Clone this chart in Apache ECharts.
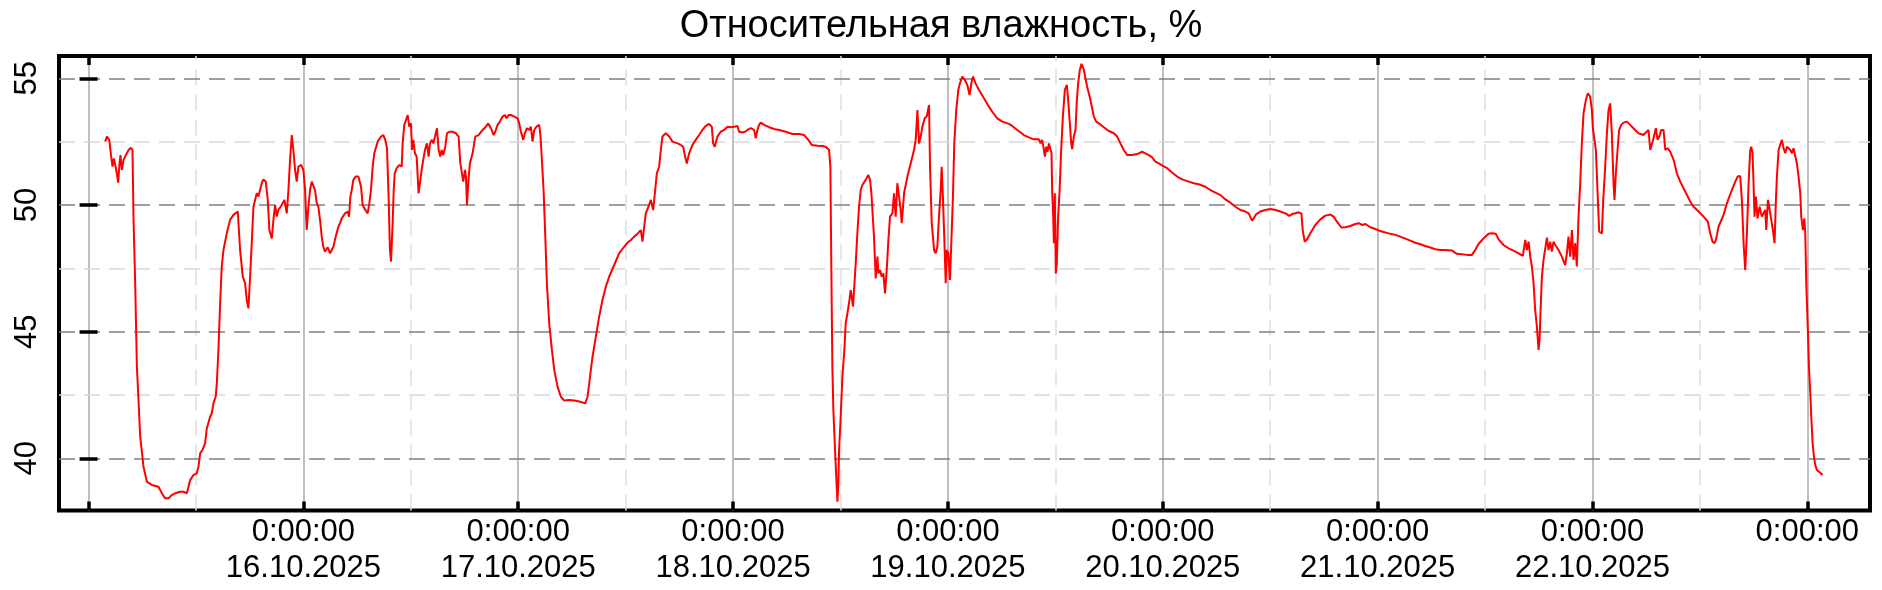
<!DOCTYPE html>
<html>
<head>
<meta charset="utf-8">
<script src="https://cdn.jsdelivr.net/npm/echarts@6/dist/echarts.min.js"></script>
<style>
  html, body { margin: 0; padding: 0; background: #fff; }
  #chart { width: 1882px; height: 590px; }
</style>
</head>
<body>
<div id="chart"></div>
<script>
// [часы от 15.10.2025 0:00, влажность %]
const readings = [
  [1.86,52.50],[2.05,52.70],[2.31,52.57],[2.53,51.91],[2.68,51.51],[2.83,51.84],[2.98,51.58],[3.16,51.25],
  [3.31,50.88],[3.46,51.64],[3.57,51.97],[3.72,51.38],[3.91,51.78],[4.09,51.91],[4.28,52.04],[4.47,52.17],
  [4.73,52.26],[4.91,52.17],[5.02,49.54],[5.21,46.91],[5.40,43.62],[5.58,42.30],[5.77,40.86],[6.14,39.67],
  [6.51,39.08],[7.07,38.95],[7.81,38.88],[8.19,38.62],[8.56,38.42],[8.93,38.42],[9.30,38.55],[9.67,38.62],
  [10.23,38.68],[10.60,38.68],[10.98,38.62],[11.35,39.14],[11.72,39.34],[12.09,39.41],[12.28,39.67],[12.47,40.20],
  [12.73,40.33],[13.02,40.59],[13.21,41.18],[13.40,41.12],[13.58,41.64],[13.77,41.78],[13.95,42.17],[14.21,42.44],
  [14.33,42.96],[14.51,44.28],[14.70,46.12],[14.88,47.57],[15.07,48.22],[15.44,48.88],[15.81,49.41],[16.19,49.61],
  [16.67,49.74],[16.93,48.22],[17.23,47.17],[17.49,46.91],[17.67,46.25],[17.86,45.92],[18.05,47.17],[18.23,48.49],
  [18.42,49.93],[18.79,50.46],[18.98,50.33],[19.16,50.59],[19.35,50.86],[19.53,51.01],[19.80,50.92],[20.02,50.20],
  [20.20,49.01],[20.47,48.68],[20.65,49.41],[20.84,50.00],[21.02,49.54],[21.21,49.80],[21.58,50.00],[21.88,50.20],
  [22.14,49.67],[22.33,50.59],[22.51,51.78],[22.70,52.76],[22.88,52.17],[23.07,51.38],[23.26,50.92],[23.44,51.51],
  [23.74,51.58],[24.00,51.38],[24.19,50.59],[24.37,49.01],[24.56,49.93],[24.74,50.59],[24.93,50.92],[25.15,50.99],
  [25.30,50.59],[25.49,50.07],[25.67,49.93],[25.86,49.41],[26.05,48.75],[26.23,48.35],[26.42,48.16],[26.72,48.33],
  [26.98,48.09],[27.16,48.16],[27.35,48.35],[27.61,48.75],[27.91,49.14],[28.09,49.28],[28.28,49.47],[28.65,49.67],
  [28.95,49.74],[29.10,49.54],[29.25,50.33],[29.40,50.59],[29.58,50.99],[29.84,51.12],[30.14,51.12],
  [30.44,50.72],[30.62,50.00],[30.92,49.80],[31.18,49.67],[31.37,50.07],[31.55,50.59],[31.74,51.51],[31.92,52.04],
  [32.30,52.50],[32.67,52.70],[32.93,52.76],[33.15,52.57],[33.34,52.24],[33.53,50.20],[33.67,48.22],[33.79,47.76],
  [33.97,49.28],[34.09,50.59],[34.20,51.25],[34.42,51.45],[34.72,51.58],[34.98,51.51],[35.09,52.43],[35.27,53.16],
  [35.46,53.35],[35.65,53.55],[35.83,53.09],[36.02,53.22],[36.13,52.17],[36.28,52.57],[36.46,52.04],[36.65,51.91],
  [36.87,50.46],[37.02,50.86],[37.21,51.38],[37.39,51.78],[37.58,52.17],[37.80,52.43],[37.99,51.91],[38.14,52.43],
  [38.36,52.57],[38.51,52.43],[38.70,52.70],[38.92,53.03],[39.11,52.17],[39.29,51.91],[39.44,52.17],[39.63,51.97],
  [39.85,52.30],[40.04,52.83],[40.30,52.89],[40.67,52.89],[41.04,52.83],[41.34,52.70],[41.53,51.64],[41.71,51.25],
  [41.86,50.92],[42.05,51.38],[42.16,51.12],[42.27,50.00],[42.42,50.86],[42.60,51.64],[42.90,52.04],[43.20,52.70],
  [43.57,52.76],[44.02,52.96],[44.39,53.09],[44.65,53.22],[44.95,53.03],[45.25,52.76],[45.43,52.89],[45.69,53.16],
  [45.95,53.29],[46.25,53.49],[46.51,53.55],[46.70,53.42],[46.92,53.55],[47.18,53.55],[47.55,53.49],[47.93,53.42],
  [48.11,53.22],[48.30,52.89],[48.56,52.57],[48.74,52.83],[48.97,53.03],[49.23,52.96],[49.41,53.09],[49.60,52.50],
  [49.79,52.96],[50.05,53.09],[50.34,53.16],[50.49,52.70],[50.64,51.78],[50.83,50.59],[51.01,48.88],[51.20,46.91],
  [51.46,45.33],[51.76,44.28],[52.02,43.49],[52.39,42.83],[52.76,42.43],[53.14,42.28],[53.69,42.30],[54.25,42.28],
  [54.81,42.24],[55.48,42.17],[55.74,42.43],[55.93,42.96],[56.11,43.49],[56.30,44.01],[56.67,44.80],[57.04,45.59],
  [57.41,46.25],[57.79,46.78],[58.16,47.17],[58.72,47.63],[59.27,48.09],[59.83,48.35],[60.20,48.51],[60.58,48.62],
  [60.95,48.75],[61.32,48.86],[61.69,49.01],[61.88,48.55],[62.07,49.14],[62.25,49.67],[62.55,49.93],[62.81,50.20],
  [63.07,49.80],[63.30,50.59],[63.48,51.25],[63.74,51.51],
  [63.93,52.17],[64.11,52.70],[64.48,52.83],[64.86,52.70],[65.23,52.50],[65.79,52.43],[66.16,52.37],[66.42,52.30],
  [66.64,51.91],[66.83,51.64],[67.09,52.04],[67.46,52.37],[67.83,52.57],[68.20,52.76],[68.58,52.96],[68.95,53.12],
  [69.32,53.20],[69.62,53.09],[69.77,52.43],[69.95,52.30],[70.25,52.70],[70.62,52.89],[71.00,52.96],[71.37,53.09],
  [71.74,53.07],[72.11,53.09],[72.49,53.12],[72.67,52.89],[72.86,52.96],[73.04,52.86],[73.34,52.89],[73.60,52.96],
  [73.97,53.03],[74.35,52.96],[74.53,52.63],[74.72,52.96],[74.90,53.16],[75.09,53.25],[75.46,53.16],[76.02,53.07],
  [76.58,53.00],[77.14,52.96],[77.88,52.89],[78.62,52.80],[79.37,52.80],[79.93,52.76],[80.41,52.57],[80.78,52.37],
  [81.42,52.34],[81.98,52.33],[82.34,52.30],[82.72,52.17],[82.87,51.51],[82.94,48.75],[83.02,45.99],[83.09,43.62],
  [83.20,41.91],[83.39,40.33],[83.54,39.14],[83.65,38.29],[83.76,39.01],[83.84,40.33],[84.02,41.64],[84.21,43.22],
  [84.43,44.28],[84.58,45.33],[84.77,45.72],[84.95,46.12],[85.14,46.64],[85.25,46.38],[85.40,45.99],[85.51,46.64],
  [85.70,47.70],[85.88,48.88],[86.07,49.93],[86.26,50.59],[86.44,50.79],[86.81,50.99],[87.11,51.18],[87.30,50.99],
  [87.45,50.46],[87.56,49.80],[87.74,48.75],[87.93,47.10],[88.12,47.96],[88.23,47.30],[88.42,47.43],[88.60,47.17],
  [88.79,47.30],[88.97,46.51],[89.16,47.43],[89.35,48.62],[89.53,49.54],[89.79,49.67],[89.98,50.46],[90.16,49.54],
  [90.35,50.86],[90.54,50.33],[90.72,49.80],[90.84,49.28],[91.10,50.46],[91.47,51.12],[91.84,51.64],[92.21,52.17],
  [92.40,52.57],[92.59,53.75],[92.77,52.43],[92.96,52.70],[93.14,53.09],[93.40,53.42],[93.63,53.49],[93.89,53.95],
  [94.00,51.51],[94.19,49.28],[94.45,48.22],[94.63,48.09],[94.82,48.35],[95.00,49.54],[95.19,50.59],[95.30,51.51],
  [95.45,50.20],[95.60,48.62],[95.75,46.91],[95.86,48.22],[96.04,48.09],[96.23,47.04],[96.41,46.97],[96.56,50.33],
  [96.71,52.43],[96.93,53.75],[97.16,54.54],[97.34,54.80],[97.60,55.07],[97.90,54.93],[98.16,54.74],
  [98.42,54.34],[98.65,54.87],[98.80,55.07],[99.09,54.80],[99.47,54.54],[100.02,54.21],[100.58,53.88],[100.95,53.68],
  [101.51,53.42],[102.07,53.29],[102.81,53.20],[103.18,53.12],[103.74,52.96],[104.49,52.76],[105.04,52.67],[105.60,52.59],
  [106.16,52.59],[106.35,52.43],[106.53,52.57],[106.72,52.17],[106.83,51.91],[106.98,52.30],[107.13,52.10],[107.28,52.43],
  [107.46,52.43],[107.57,52.04],[107.65,50.46],[107.76,49.54],[107.83,48.49],[107.94,50.46],[108.05,47.30],[108.16,47.70],
  [108.31,49.54],[108.46,50.46],[108.65,52.17],[108.84,53.49],[109.06,54.54],[109.28,54.74],[109.43,54.14],[109.62,53.22],
  [109.77,52.43],[109.88,52.20],[110.06,52.70],[110.25,52.96],[110.40,54.14],[110.55,54.80],[110.73,55.33],[110.92,55.57],
  [111.18,55.33],[111.55,54.67],[111.92,54.14],[112.30,53.49],[112.56,53.29],[112.85,53.22],[113.41,53.07],[113.97,52.92],
  [114.53,52.83],[114.90,52.70],[115.27,52.43],[115.64,52.17],[116.02,51.97],[116.57,51.97],[117.13,52.01],[117.69,52.10],
  [118.06,52.04],[118.43,51.97],[118.81,51.88],[119.18,51.71],[119.55,51.64],[120.00,51.54],[120.48,51.45],[121.04,51.28],
  [121.60,51.12],[122.16,51.01],[122.90,50.92],[123.46,50.86],[124.02,50.82],[124.76,50.72],[125.32,50.59],[125.88,50.49],
  [126.44,50.39],[126.99,50.22],[127.55,50.09],[128.11,49.93],[128.67,49.80],[129.22,49.74],[129.60,49.67],[129.78,49.61],
  [129.97,49.38],[130.15,49.47],[130.45,49.64],[130.90,49.74],[131.46,49.80],
  [132.02,49.84],[132.58,49.80],[133.14,49.74],[133.69,49.67],[134.14,49.57],[134.44,49.64],[134.81,49.67],[135.18,49.71],
  [135.48,49.67],[135.63,49.01],[135.85,48.55],[136.11,48.64],[136.48,48.88],[137.04,49.21],[137.60,49.43],[138.16,49.58],
  [138.72,49.62],[139.09,49.54],[139.46,49.34],[139.95,49.11],[140.39,49.12],[140.95,49.17],[141.51,49.25],[141.88,49.28],
  [142.26,49.21],[142.63,49.25],[143.19,49.12],[143.75,49.05],[144.30,48.97],[144.86,48.91],[145.42,48.86],[145.98,48.82],
  [146.53,48.75],[147.09,48.67],[147.65,48.59],[148.21,48.51],[148.77,48.45],[149.32,48.38],[149.88,48.32],[150.44,48.25],
  [151.00,48.22],[151.55,48.22],[152.30,48.20],[152.86,48.07],[153.41,48.05],[153.97,48.03],[154.53,48.03],[154.90,48.22],
  [155.27,48.46],[155.83,48.68],[156.39,48.86],[156.76,48.88],[157.21,48.86],[157.51,48.64],[158.06,48.42],[158.62,48.29],
  [159.18,48.20],[159.74,48.09],[160.22,47.99],[160.49,48.62],[160.67,48.22],[160.86,48.55],[161.05,47.96],[161.23,47.57],
  [161.42,46.91],[161.60,45.85],[161.79,45.20],[161.98,44.28],[162.09,44.67],[162.20,45.85],[162.35,47.17],[162.53,47.83],
  [162.72,47.86],[162.91,48.71],[163.09,48.22],[163.28,48.55],[163.46,48.16],[163.65,48.55],[163.84,48.42],[164.02,48.35],
  [164.21,48.22],
  [164.58,47.96],[164.95,47.63],[165.14,48.09],[165.32,48.75],[165.51,47.96],[165.70,49.01],[165.88,47.83],[166.07,48.49],
  [166.25,47.57],[166.44,49.54],[166.63,50.86],[166.81,52.43],[167.00,53.62],[167.26,54.14],[167.48,54.41],[167.74,54.28],
  [167.93,53.75],[168.04,53.03],[168.23,52.96],[168.38,52.17],[168.60,50.20],[168.75,48.95],[168.90,48.95],[169.05,48.88],
  [169.20,50.20],[169.42,51.51],[169.61,52.83],[169.79,53.75],[169.98,54.01],[170.16,52.83],[170.35,50.86],[170.46,50.20],
  [170.61,51.25],[170.80,52.17],[170.98,52.96],[171.21,53.16],[171.47,53.25],[171.84,53.29],[172.21,53.16],[172.58,53.03],
  [173.14,52.83],[173.70,52.76],[173.96,52.86],[174.26,52.96],[174.45,52.17],[174.56,52.10],[174.82,52.63],[175.08,53.03],
  [175.27,52.57],[175.46,52.70],[175.68,52.96],[175.94,52.96],[176.13,52.17],[176.39,52.24],[176.69,52.10],[177.06,51.78],
  [177.43,51.25],[177.80,50.92],[178.36,50.53],[178.92,50.13],[179.29,49.93],[179.85,49.74],[180.41,49.54],[180.89,49.34],
  [181.15,48.88],[181.41,48.55],[181.64,48.49],[181.79,48.62],[182.08,49.14],[182.27,49.21],[182.64,49.61],[183.02,50.07],
  [183.57,50.59],[183.95,50.92],[184.21,51.12],[184.50,51.14],[184.69,50.20],[184.88,48.49],[185.06,47.43],[185.25,48.88],
  [185.44,50.86],[185.62,52.17],[185.73,52.30],[185.88,52.04],[185.99,50.86],[186.10,49.54],[186.25,50.33],[186.44,49.47],
  [186.66,49.93],[186.92,49.54],[187.11,49.67],[187.30,49.80],[187.41,49.01],[187.60,50.20],[187.74,49.93],[187.97,49.41],
  [188.15,49.01],[188.34,48.49],[188.49,50.20],[188.60,51.12],[188.79,52.17],[188.97,52.37],[189.16,52.57],[189.35,52.24],
  [189.53,52.04],[189.72,52.30],[189.90,52.24],[190.09,52.17],[190.28,52.04],[190.46,52.24],[190.65,52.24],[190.83,51.64],
  [191.02,51.12],[191.21,50.46],[191.32,49.54],[191.51,49.01],[191.66,49.47],[191.77,48.88],[191.88,46.91],[192.07,44.93],
  [192.18,43.62],[192.33,42.57],[192.44,41.64],[192.59,40.59],[192.74,40.07],[192.88,39.74],[193.07,39.54],[193.26,39.51],
  [193.44,39.43],[193.70,39.34]
];

const dayTicks = [0, 24, 48, 72, 96, 120, 144, 168, 192];
const dayLabels = ['', '0:00:00\n16.10.2025', '0:00:00\n17.10.2025', '0:00:00\n18.10.2025',
  '0:00:00\n19.10.2025', '0:00:00\n20.10.2025', '0:00:00\n21.10.2025', '0:00:00\n22.10.2025', '0:00:00'];
const noonLines = [12, 36, 60, 84, 108, 132, 156, 180];
const yMajor = [40, 45, 50, 55];
const yMinor = [42.5, 47.5, 52.5];

const font = "'Liberation Sans', Arial, sans-serif";
const xMin = -3.3, xMax = 199;
const yMin = 37.94, yMax = 55.88;

const tickStyle = { show: true, inside: true, length: 9, lineStyle: { color: '#000', width: 3.5 } };

// сетка рисуется маркерными линиями, т.к. шкалы начинаются не с кратного значения
const gridLines = [].concat(
  dayTicks.map(h => ({ xAxis: h, lineStyle: { color: '#c0c0c0', type: 'solid', width: 2 } })),
  noonLines.map(h => ({ xAxis: h, lineStyle: { color: '#dedede', type: [16, 9], width: 1.5 } })),
  yMinor.map(v => ({ yAxis: v, lineStyle: { color: '#d9d9d9', type: [16, 9], width: 1.5 } })),
  yMajor.map(v => ({ yAxis: v, lineStyle: { color: '#808080', type: [16, 9], width: 1.5 } }))
);

const chart = echarts.init(document.getElementById('chart'), null, { renderer: 'canvas' });
chart.setOption({
  animation: false,
  backgroundColor: '#fff',
  title: {
    text: 'Относительная влажность, %',
    left: 'center',
    top: 3,
    textStyle: { fontFamily: font, fontSize: 38, fontWeight: 'normal', color: '#000' }
  },
  grid: {
    left: 59, right: 12, top: 56, bottom: 79.5,
    show: true, borderColor: '#000', borderWidth: 4
  },
  xAxis: [{
    type: 'value', position: 'bottom', min: xMin, max: xMax, z: 10,
    axisLine: { show: false },
    axisTick: Object.assign({ customValues: dayTicks }, tickStyle),
    splitLine: { show: false },
    axisLabel: {
      customValues: dayTicks,
      formatter: v => dayLabels[dayTicks.indexOf(v)] || '',
      fontFamily: font, fontSize: 31, color: '#000', lineHeight: 36, margin: 4
    }
  }, {
    type: 'value', position: 'top', min: xMin, max: xMax, z: 10,
    axisLine: { show: false },
    axisTick: Object.assign({ customValues: dayTicks }, tickStyle),
    splitLine: { show: false },
    axisLabel: { show: false }
  }],
  yAxis: [{
    type: 'value', position: 'left', min: yMin, max: yMax, z: 10,
    axisLine: { show: false },
    axisTick: Object.assign({ customValues: yMajor }, tickStyle),
    splitLine: { show: false },
    axisLabel: {
      customValues: yMajor, rotate: 90,
      fontFamily: font, fontSize: 31, color: '#000', margin: 16
    }
  }, {
    type: 'value', position: 'right', min: yMin, max: yMax, z: 10,
    axisLine: { show: false },
    axisTick: Object.assign({ customValues: yMajor }, tickStyle),
    splitLine: { show: false },
    axisLabel: { show: false }
  }],
  series: [{
    type: 'line',
    data: readings,
    showSymbol: false,
    lineStyle: { color: '#ff0000', width: 2 },
    z: 3,
    markLine: {
      silent: true, symbol: 'none', z: 1, animation: false,
      label: { show: false },
      emphasis: { disabled: true },
      data: gridLines
    }
  }]
});
</script>
</body>
</html>
